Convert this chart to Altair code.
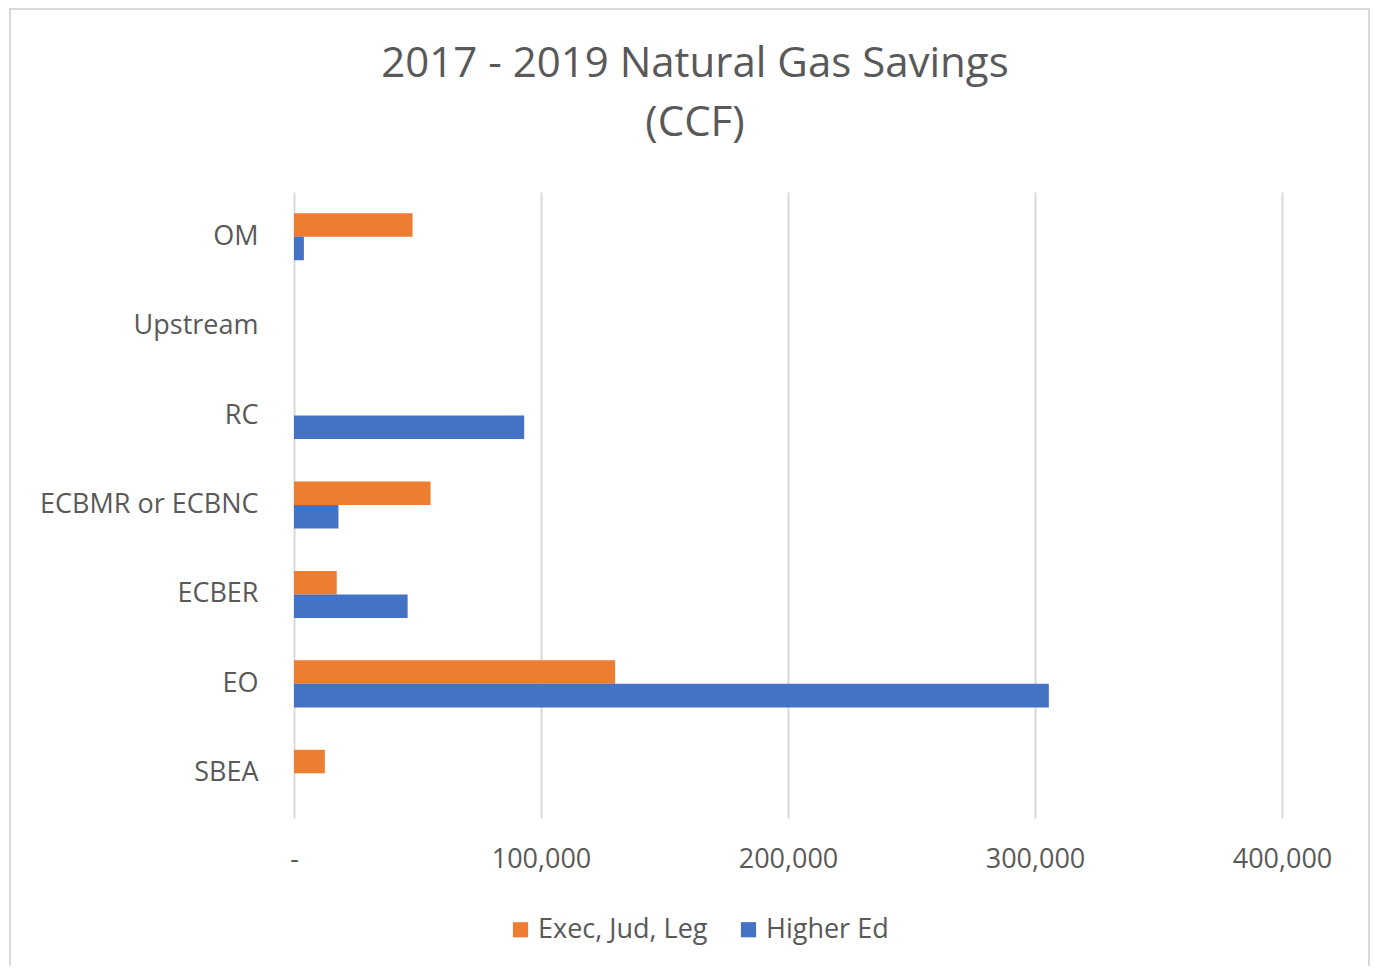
import altair as alt
import pandas as pd

categories = ["OM", "Upstream", "RC", "ECBMR or ECBNC", "ECBER", "EO", "SBEA"]
series_names = ["Exec, Jud, Leg", "Higher Ed"]
exec_vals = [48000, 0, 0, 55300, 17300, 130000, 12500]
higher_vals = [4000, 0, 93200, 18000, 46000, 305600, 0]
x_ticks = [0, 100000, 200000, 300000, 400000]
colors = ["#ED7D31", "#4472C4"]
title_lines = ["2017 - 2019 Natural Gas Savings", "(CCF)"]

rows = []
for c, e, h in zip(categories, exec_vals, higher_vals):
    rows.append({"Category": c, "Series": series_names[0], "Value": e})
    rows.append({"Category": c, "Series": series_names[1], "Value": h})
df = pd.DataFrame(rows)

W, H = 988, 626
font = "Open Sans"
gray = "#595959"
fs = 27

bars = alt.Chart(df).mark_bar().encode(
    y=alt.Y("Category:N", sort=categories,
            scale=alt.Scale(paddingInner=0.474, paddingOuter=0.237),
            axis=alt.Axis(title=None, domain=False, ticks=False, labelPadding=36,
                          labelFontSize=fs, labelColor=gray, labelFont=font,
                          labelLimit=400, grid=False)),
    yOffset=alt.YOffset("Series:N", sort=series_names,
                        scale=alt.Scale(paddingInner=0, paddingOuter=0)),
    x=alt.X("Value:Q", scale=alt.Scale(domain=[0, 400000], nice=False),
            axis=alt.Axis(title=None, values=x_ticks, domain=False, ticks=False,
                          grid=True, gridColor="#d9d9d9", gridWidth=2,
                          labelFontSize=fs, labelColor=gray, labelFont=font,
                          labelPadding=28, labelFlush=False, labelOverlap=False,
                          labelExpr="datum.value == 0 ? '-' : format(datum.value, ',')")),
    color=alt.Color("Series:N", sort=series_names,
                    scale=alt.Scale(domain=series_names, range=colors),
                    legend=alt.Legend(title=None, orient="none", direction="horizontal",
                                      legendX=213, legendY=724, symbolType="square",
                                      symbolSize=230, symbolStrokeWidth=0,
                                      labelFontSize=fs, labelColor=gray, labelFont=font,
                                      labelLimit=400,
                                      columnPadding=27, symbolOffset=0, labelOffset=4)),
)

border = alt.Chart(alt.Data(values=[{}])).mark_rect(
    fillOpacity=0, stroke="#d9d9d9", strokeWidth=2
).encode(
    x=alt.value(-284), x2=alt.value(1075), y=alt.value(-183), y2=alt.value(800)
)

title1 = alt.Chart(pd.DataFrame({"t": [title_lines[0]]})).mark_text(
    font=font, fontSize=42, color=gray, align="center", baseline="alphabetic"
).encode(text="t:N", x=alt.value(401), y=alt.value(-115))
title2 = alt.Chart(pd.DataFrame({"t": [title_lines[1]]})).mark_text(
    font=font, fontSize=42, color=gray, align="center", baseline="alphabetic"
).encode(text="t:N", x=alt.value(401), y=alt.value(-56))

chart = alt.layer(border, bars, title1, title2).properties(
    width=W, height=H,
    background="white",
    autosize=alt.AutoSizeParams(type="none"),
    padding={"left": 286, "top": 184, "right": 89, "bottom": 148},
).configure_view(stroke=None, strokeWidth=0)

chart.save("out.html", embed_options={"renderer": "svg", "actions": False})
